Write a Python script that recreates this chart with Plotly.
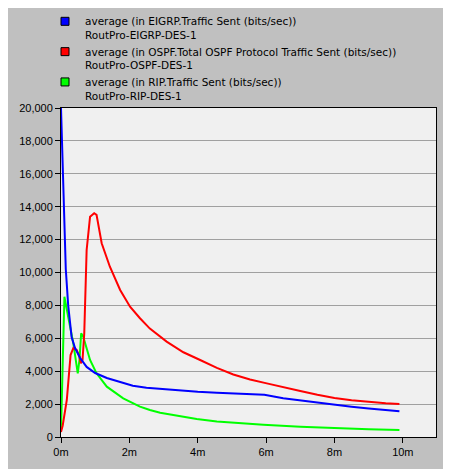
import plotly.graph_objects as go

# ---- data (time in minutes, value in bits/sec) ----
eigrp_t = [0.0, 0.07, 0.14, 0.21, 0.31, 0.41, 0.56, 0.75, 1.0, 1.34, 1.73, 2.1, 2.5, 3.0, 3.58,
           4.0, 4.56, 5.0, 5.53, 5.95, 6.5, 7.0, 7.5, 8.0, 8.5, 9.0, 9.5, 9.9]
eigrp_v = [20000, 14400, 10200, 8000, 6080, 5410, 4800, 4260, 3890, 3590, 3330, 3120, 2990, 2900, 2810,
           2750, 2690, 2640, 2600, 2570, 2360, 2220, 2080, 1950, 1840, 1730, 1630, 1560]

ospf_t = [0.0, 0.05, 0.17, 0.28, 0.36, 0.46, 0.54, 0.58, 0.63, 0.68, 0.75, 0.85, 0.97, 1.04, 1.19,
          1.43, 1.73, 2.02, 2.31, 2.6, 3.09, 3.58, 4.07, 4.56, 5.04, 5.53, 6.02, 6.5, 7.0, 7.5,
          8.0, 8.5, 9.0, 9.5, 9.9]
ospf_v = [300, 700, 2250, 4980, 5400, 5290, 4880, 4480, 4680, 6300, 11370, 13390, 13600, 13500, 11780,
          10350, 8940, 7920, 7220, 6590, 5800, 5150, 4680, 4200, 3800, 3500, 3260, 3020, 2800, 2570,
          2370, 2230, 2130, 2050, 2000]

rip_t = [0.0, 0.1, 0.21, 0.36, 0.49, 0.54, 0.59, 0.65, 0.85, 1.04, 1.34, 1.82, 2.31, 2.6, 2.9,
         3.58, 3.97, 4.56, 5.53, 5.92, 7.0, 8.0, 9.0, 9.9]
rip_v = [400, 8530, 7310, 5690, 3870, 4680, 6300, 6100, 4680, 3870, 3060, 2350, 1850, 1640, 1480,
         1220, 1090, 940, 790, 740, 630, 540, 470, 425]

series_names = [
    "average (in EIGRP.Traffic Sent (bits/sec))<br>RoutPro-EIGRP-DES-1",
    "average (in OSPF.Total OSPF Protocol Traffic Sent (bits/sec))<br>RoutPro-OSPF-DES-1",
    "average (in RIP.Traffic Sent (bits/sec))<br>RoutPro-RIP-DES-1",
]
series_colors = ["#0000ff", "#ff0000", "#00ff00"]

x_tickvals = [0, 2, 4, 6, 8, 10]
x_ticktext = ["0m", "2m", "4m", "6m", "8m", "10m"]
y_tickvals = [0, 2000, 4000, 6000, 8000, 10000, 12000, 14000, 16000, 18000, 20000]

FONT = "Liberation Sans, Arial, sans-serif"
LEG_FONT = "DejaVu Sans, Verdana, sans-serif"
ML, MR, MT, MB = 53, 15, 100, 32
W, H = 443, 461
PLOT_W, PLOT_H = W - ML - MR, H - MT - MB

fig = go.Figure()
data = [(eigrp_t, eigrp_v), (ospf_t, ospf_v), (rip_t, rip_v)]
for i in [2, 1, 0]:
    t, v = data[i]
    fig.add_trace(go.Scatter(x=t, y=v, mode="lines", showlegend=False,
                             line=dict(color=series_colors[i], width=2)))
for i in range(3):
    fig.add_trace(go.Scatter(x=[None], y=[None], mode="markers", name=series_names[i],
                             marker=dict(symbol="square", size=8, color=series_colors[i],
                                         line=dict(color="#000000", width=1))))

fig.update_layout(
    width=W, height=H,
    margin=dict(l=ML, r=MR, t=MT, b=MB, autoexpand=False),
    paper_bgcolor="#c0c0c0",
    plot_bgcolor="#f0f0f0",
    font=dict(family=FONT, size=11, color="#000000"),
    legend=dict(x=(37 - ML) / PLOT_W, y=1 + MT / PLOT_H, xref="paper", yref="paper",
                xanchor="left", yanchor="top",
                bgcolor="rgba(0,0,0,0)", valign="top", tracegroupgap=0,
                font=dict(family=LEG_FONT, size=10.5, color="#000000")),
)
fig.update_xaxes(range=[0, 10.97], tickvals=x_tickvals, ticktext=x_ticktext,
                 showgrid=False, zeroline=False, showline=True, linecolor="#000000", linewidth=1,
                 mirror=True, ticks="outside", ticklen=5, tickcolor="#000000",
                 tickfont=dict(family=FONT, size=11, color="#000000"))
fig.update_yaxes(range=[0, 20000], tickvals=y_tickvals, tickformat=",",
                 showgrid=True, gridcolor="#a0a0a0", gridwidth=1, zeroline=False,
                 showline=True, linecolor="#000000", linewidth=1, mirror=True,
                 ticks="outside", ticklen=5, tickcolor="#000000",
                 tickfont=dict(family=FONT, size=11, color="#000000"))

fig.write_html("out.html")
